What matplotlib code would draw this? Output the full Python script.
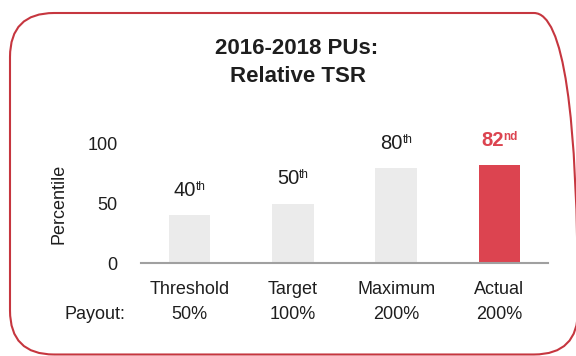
import matplotlib
matplotlib.use("Agg")
import matplotlib.pyplot as plt
from matplotlib.patches import FancyBboxPatch
from matplotlib.transforms import IdentityTransform
from matplotlib.offsetbox import TextArea, HPacker, AnnotationBbox

plt.rcParams['font.family'] = ['Liberation Sans', 'DejaVu Sans']

# Data
categories = ['Threshold', 'Target', 'Maximum', 'Actual']
payouts = ['50%', '100%', '200%', '200%']
percentiles = [40, 50, 80, 82]
suffixes = ['th', 'th', 'th', 'nd']
highlight = [False, False, False, True]

GRAY = '#ebebeb'
RED = '#dc4450'
BORDER = '#c6363f'
TEXT = '#1e1e1e'

fig = plt.figure(figsize=(5.76, 3.56), dpi=100)
fig.patch.set_facecolor('white')

# rounded frame around the whole panel (pixel coordinates)
frame = FancyBboxPatch((10, 1.5), 568, 341.5, boxstyle='round,pad=0,rounding_size=44',
                       transform=IdentityTransform(), facecolor='none',
                       edgecolor=BORDER, linewidth=1.5)
fig.patches.append(frame)

fig.text(297 / 576, 1 - 49 / 356, '2016-2018 PUs:', ha='center', va='center',
         fontsize=16, fontweight='bold', color=TEXT)
fig.text(298 / 576, 1 - 76 / 356, 'Relative TSR', ha='center', va='center',
         fontsize=16, fontweight='bold', color=TEXT)

ax = fig.add_axes([141 / 576, 93 / 356, 407 / 576, 119 / 356])
x = list(range(len(categories)))
colors = [RED if h else GRAY for h in highlight]
ax.bar(x, percentiles, width=0.4, color=colors, zorder=2)

# percentile labels with small superscript ordinal
for xi, v, suf, h in zip(x, percentiles, suffixes, highlight):
    props = dict(color=RED if h else TEXT, fontweight='bold' if h else 'normal')
    num = TextArea(str(v), textprops=dict(fontsize=14.5, **props))
    sup = TextArea(suf, textprops=dict(fontsize=8.5, **props))
    box = HPacker(children=[num, sup], align='top', pad=0, sep=0)
    ab = AnnotationBbox(box, (xi, v), xybox=(0, 11), xycoords='data',
                        boxcoords='offset points', box_alignment=(0.5, 0),
                        frameon=False, annotation_clip=False)
    ax.add_artist(ab)

ax.set_xlim(-0.47, 3.47)
ax.set_ylim(0, 100)
ax.set_yticks([0, 50, 100])
ax.tick_params(axis='y', length=0, pad=17, labelsize=13, labelcolor=TEXT)
ax.set_xticks(x)
ax.set_xticklabels([])
ax.tick_params(axis='x', length=0)
ax.set_ylabel('Percentile', fontsize=13, color=TEXT, labelpad=14)

for xi, c, p in zip(x, categories, payouts):
    ax.annotate(c, (xi, 0), xytext=(0, -19), textcoords='offset points',
                ha='center', va='center', fontsize=13, color=TEXT,
                annotation_clip=False)
    ax.annotate(p, (xi, 0), xytext=(0, -37), textcoords='offset points',
                ha='center', va='center', fontsize=13, color=TEXT,
                annotation_clip=False)
ax.annotate('Payout:', (-0.47, 0), xytext=(-33, -37), textcoords='offset points',
            ha='center', va='center', fontsize=13, color=TEXT,
            annotation_clip=False)

for side in ['top', 'right', 'left']:
    ax.spines[side].set_visible(False)
ax.spines['bottom'].set_color('#a0a0a0')
ax.spines['bottom'].set_linewidth(1.5)
ax.set_facecolor('none')

fig.savefig('out.png', dpi=100, facecolor='white')
